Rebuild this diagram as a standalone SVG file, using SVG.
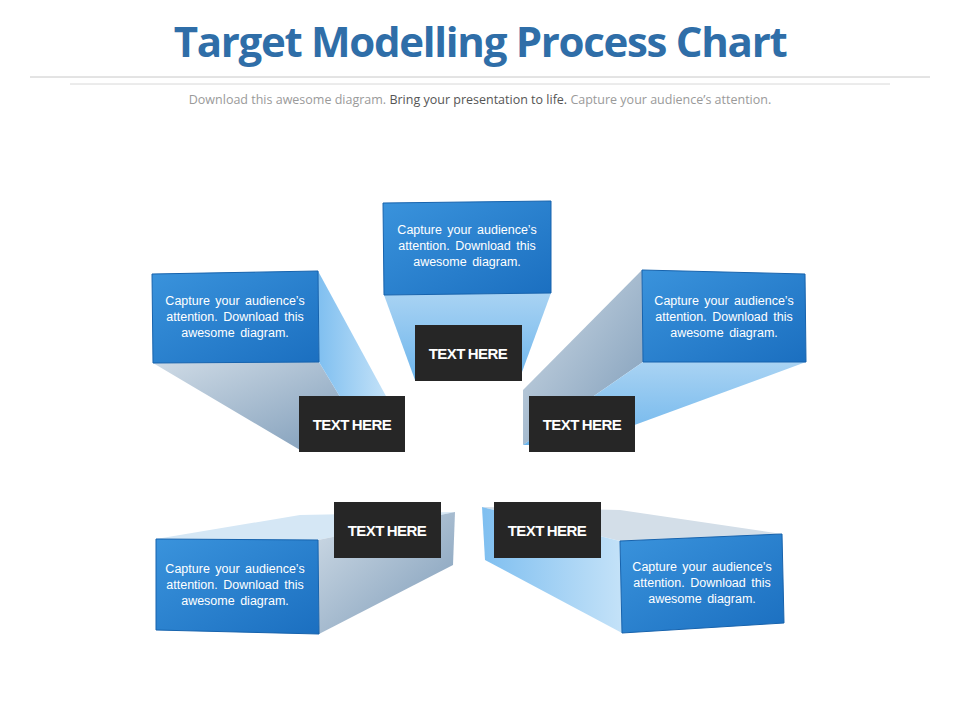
<svg xmlns="http://www.w3.org/2000/svg" width="960" height="720" viewBox="0 0 960 720">
<defs>
<linearGradient id="face" x1="0" y1="0" x2="1" y2="1"><stop offset="0" stop-color="#3a93dc"/><stop offset="1" stop-color="#1b6fc0"/></linearGradient>
<linearGradient id="lite" x1="0" y1="0" x2="0" y2="1"><stop offset="0" stop-color="#a9d3f3"/><stop offset="1" stop-color="#6db5ec"/></linearGradient>
<linearGradient id="grey" x1="0" y1="0" x2="1" y2="1"><stop offset="0" stop-color="#cfdbe6"/><stop offset="1" stop-color="#7d9bb8"/></linearGradient>
<linearGradient id="lh" x1="0" y1="0" x2="1" y2="0"><stop offset="0" stop-color="#7fbff0"/><stop offset="1" stop-color="#c4e2f8"/></linearGradient>
</defs>
<style>
.face{fill:url(#face);stroke:#1763ad;stroke-width:1}
.t{font-family:"Liberation Sans",Arial,sans-serif;font-size:12.5px;fill:#fff;text-anchor:middle;word-spacing:2px}
.lb{fill:#262626}
.lt{font-family:"Liberation Sans",Arial,sans-serif;font-size:15px;font-weight:bold;fill:#fff;text-anchor:middle;letter-spacing:-0.5px;word-spacing:-1px}
</style>
<rect width="960" height="720" fill="#fff"/>
<text x="480" y="57" font-family="'Open Sans','Liberation Sans',sans-serif" font-size="42" font-weight="bold" fill="#2f6ea8" text-anchor="middle" letter-spacing="-1.3">Target Modelling Process Chart</text>
<line x1="30" y1="77" x2="930" y2="77" stroke="#c8c8c8"/>
<line x1="70" y1="84" x2="890" y2="84" stroke="#d8d8d8"/>
<text x="480" y="104" font-family="'Open Sans','Liberation Sans',sans-serif" font-size="12.5" fill="#9a9a9a" text-anchor="middle">Download this awesome diagram. <tspan fill="#555">Bring your presentation to life.</tspan> Capture your audience’s attention.</text>

<g id="box-top">
<polygon points="384,295 551,293 522,372 415,380" fill="url(#lite)"/>
<polygon class="face" points="383,203 551,201 551,293 384,295"/>
<text class="t" x="467" y="234">Capture your audience’s</text><text class="t" x="467" y="250">attention. Download this</text><text class="t" x="467" y="266">awesome diagram.</text>
</g>
<g id="box-left">
<polygon points="153,363 319,362 360,430 300,450" fill="url(#grey)"/>
<polygon points="318,271 387,398 360,430 319,362" fill="url(#lh)"/>
<polygon class="face" points="152,274 318,271 319,362 153,363"/>
<text class="t" x="235" y="305">Capture your audience’s</text><text class="t" x="235" y="321">attention. Download this</text><text class="t" x="235" y="337">awesome diagram.</text>
</g>
<g id="box-right">
<polygon points="642,270 523,390 523,445 643,362" fill="url(#grey)"/>
<polygon points="643,362 806,362 580,445 523,445" fill="url(#lite)"/>
<polygon class="face" points="642,270 805,274 806,362 643,362"/>
<text class="t" x="724" y="305">Capture your audience’s</text><text class="t" x="724" y="321">attention. Download this</text><text class="t" x="724" y="337">awesome diagram.</text>
</g>
<g id="box-bl">
<polygon points="156,539 318,540 455,512 300,515" fill="#d5e7f5"/>
<polygon points="318,540 455,512 453,565 319,634" fill="url(#grey)"/>
<polygon class="face" points="156,539 318,540 319,634 156,630"/>
<text class="t" x="235" y="573">Capture your audience’s</text><text class="t" x="235" y="589">attention. Download this</text><text class="t" x="235" y="605">awesome diagram.</text>
</g>
<g id="box-br">
<polygon points="482,507 620,510 782,534 620,541" fill="#d3dee8"/>
<polygon points="482,507 620,541 622,633 485,560" fill="url(#lh)"/>
<polygon class="face" points="620,541 782,534 784,623 622,633"/>
<text class="t" x="702" y="571">Capture your audience’s</text><text class="t" x="702" y="587">attention. Download this</text><text class="t" x="702" y="603">awesome diagram.</text>
</g>
<g id="lbl-top"><rect class="lb" x="415" y="325" width="107" height="56"/><text class="lt" x="468" y="359">TEXT HERE</text></g>
<g id="lbl-left"><rect class="lb" x="299" y="396" width="106" height="56"/><text class="lt" x="352" y="430">TEXT HERE</text></g>
<g id="lbl-right"><rect class="lb" x="529" y="396" width="106" height="56"/><text class="lt" x="582" y="430">TEXT HERE</text></g>
<g id="lbl-bl"><rect class="lb" x="334" y="502" width="107" height="56"/><text class="lt" x="387" y="536">TEXT HERE</text></g>
<g id="lbl-br"><rect class="lb" x="494" y="502" width="107" height="56"/><text class="lt" x="547" y="536">TEXT HERE</text></g>
<g id="connectors"/>
</svg>
